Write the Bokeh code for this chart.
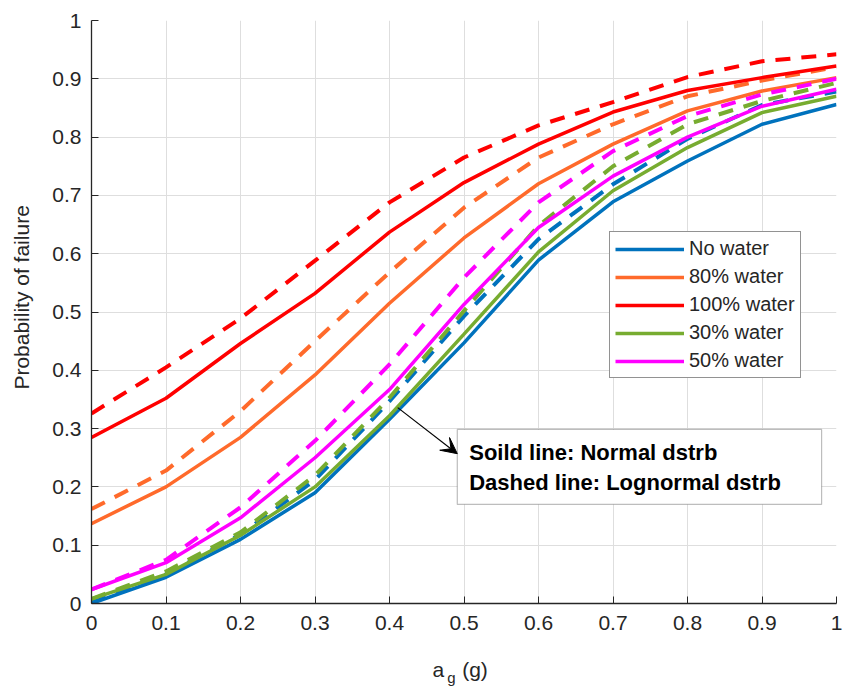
from bokeh.plotting import figure
from bokeh.layouts import column
from bokeh.models import (Legend, LegendItem, Label, BoxAnnotation, Arrow, VeeHead,
                          FixedTicker, CustomJSTickFormatter, Range1d)
from bokeh.embed import file_html
from bokeh.resources import INLINE

# ---------------- data ----------------
ag = [0.0, 0.1, 0.2, 0.3, 0.4, 0.5, 0.6, 0.7, 0.8, 0.9, 1.0]

no_water_normal = [0.000, 0.045, 0.110, 0.190, 0.316, 0.447, 0.589, 0.689, 0.759, 0.822, 0.856]
no_water_lognormal = [0.003, 0.050, 0.118, 0.212, 0.347, 0.493, 0.625, 0.719, 0.797, 0.855, 0.878]
w80_normal = [0.137, 0.200, 0.285, 0.392, 0.515, 0.627, 0.720, 0.788, 0.845, 0.879, 0.902]
w80_lognormal = [0.162, 0.228, 0.330, 0.450, 0.568, 0.679, 0.765, 0.822, 0.870, 0.897, 0.920]
w100_normal = [0.285, 0.352, 0.446, 0.532, 0.637, 0.722, 0.788, 0.843, 0.880, 0.902, 0.922]
w100_lognormal = [0.326, 0.405, 0.489, 0.588, 0.688, 0.765, 0.820, 0.860, 0.903, 0.930, 0.942]
w30_normal = [0.008, 0.050, 0.117, 0.200, 0.322, 0.462, 0.603, 0.708, 0.782, 0.842, 0.870]
w30_lognormal = [0.008, 0.055, 0.122, 0.220, 0.353, 0.502, 0.648, 0.750, 0.822, 0.862, 0.893]
w50_normal = [0.024, 0.070, 0.147, 0.250, 0.367, 0.513, 0.645, 0.733, 0.800, 0.853, 0.882]
w50_lognormal = [0.024, 0.075, 0.165, 0.279, 0.410, 0.559, 0.688, 0.776, 0.836, 0.873, 0.900]

series_names = ["No water", "80% water", "100% water", "30% water", "50% water"]
series_colors = ["#0072BD", "#FF6A2B", "#FF0000", "#77AC30", "#FF00FF"]
solid_series = [no_water_normal, w80_normal, w100_normal, w30_normal, w50_normal]
dashed_series = [no_water_lognormal, w80_lognormal, w100_lognormal, w30_lognormal, w50_lognormal]

tick_vals = [0, 0.1, 0.2, 0.3, 0.4, 0.5, 0.6, 0.7, 0.8, 0.9, 1]

FONT = "Liberation Sans"
TXT = "#262626"

p = figure(width=843, height=645, output_backend="svg", toolbar_location=None,
           x_range=Range1d(0, 1), y_range=Range1d(0, 1),
           min_border_left=91, min_border_right=7, min_border_top=20, min_border_bottom=42)
p.outline_line_color = None
p.background_fill_color = "white"
p.border_fill_color = "white"

fmt = CustomJSTickFormatter(code="return (Math.round(tick*10)/10).toString();")
for ax in (p.xaxis[0], p.yaxis[0]):
    ax.ticker = FixedTicker(ticks=tick_vals)
    ax.formatter = fmt
    ax.major_tick_in = 7
    ax.major_tick_out = 0
    ax.minor_tick_line_color = None
    ax.axis_line_color = TXT
    ax.axis_line_width = 1.3
    ax.major_tick_line_color = TXT
    ax.major_label_text_font = FONT
    ax.major_label_text_font_size = "21px"
    ax.major_label_text_color = TXT
p.xaxis.major_label_standoff = 12
p.yaxis.major_label_standoff = 10
p.yaxis.axis_label = "\u00a0\u00a0\u00a0\u00a0\u00a0Probability of failure"
p.yaxis.axis_label_text_font = FONT
p.yaxis.axis_label_text_font_size = "21px"
p.yaxis.axis_label_text_font_style = "normal"
p.yaxis.axis_label_text_color = TXT
p.yaxis.axis_label_standoff = 16

for g in (p.xgrid[0], p.ygrid[0]):
    g.ticker = FixedTicker(ticks=tick_vals)
    g.grid_line_color = "#DEDEDE"
    g.grid_line_width = 1

items = []
for name, col, sol, das in zip(series_names, series_colors, solid_series, dashed_series):
    r = p.line(ag, sol, line_color=col, line_width=3.5)
    p.line(ag, das, line_color=col, line_width=4, line_dash="15 11")
    items.append(LegendItem(label=name, renderers=[r]))

legend = Legend(items=items, location=(518, 225))
legend.label_text_font = FONT
legend.label_text_font_size = "20px"
legend.label_text_color = TXT
legend.glyph_width = 69
legend.glyph_height = 20
legend.label_height = 20
legend.spacing = 5
legend.padding = 5
legend.margin = 0
legend.label_standoff = 5
legend.border_line_color = TXT
legend.border_line_width = 1
legend.background_fill_color = "white"
legend.background_fill_alpha = 1
p.add_layout(legend)

# annotation box
box = BoxAnnotation(left=0.491, right=0.980, bottom=0.170, top=0.2985,
                    fill_color="white", fill_alpha=1, line_color=TXT, line_width=1.2)
p.add_layout(box)
p.add_layout(Label(x=0.507, y=0.259, text="Soild line: Normal dstrb", text_font=FONT,
                   text_font_size="22px", text_font_style="bold", text_color="black",
                   text_baseline="middle"))
p.add_layout(Label(x=0.507, y=0.2075, text="Dashed line: Lognormal dstrb", text_font=FONT,
                   text_font_size="22px", text_font_style="bold", text_color="black",
                   text_baseline="middle"))
p.add_layout(Arrow(x_start=0.411, y_start=0.336, x_end=0.491, y_end=0.257,
                   line_color="black", line_width=1.2,
                   end=VeeHead(size=16, fill_color="black", line_color="black")))

# strip below the axes holding the x-axis title  a_g (g)
p2 = figure(width=843, height=42, output_backend="svg", toolbar_location=None,
            x_range=Range1d(0, 1), y_range=Range1d(0, 42),
            x_axis_location=None, y_axis_location=None,
            min_border_left=91, min_border_right=7, min_border_top=0, min_border_bottom=0)
p2.outline_line_color = None
p2.xgrid.visible = False
p2.ygrid.visible = False
p2.background_fill_color = "white"
p2.border_fill_color = "white"
p2.add_layout(Label(x=0.4577, y=18, text="a", text_font=FONT, text_font_size="21px",
                    text_color=TXT, text_baseline="alphabetic"))
p2.add_layout(Label(x=0.4775, y=10, text="g", text_font=FONT, text_font_size="15px",
                    text_color=TXT, text_baseline="alphabetic"))
p2.add_layout(Label(x=0.4975, y=18, text="(g)", text_font=FONT, text_font_size="21px",
                    text_color=TXT, text_baseline="alphabetic"))

layout = column(p, p2, spacing=0)
open("out.html", "w").write(file_html(layout, INLINE))
